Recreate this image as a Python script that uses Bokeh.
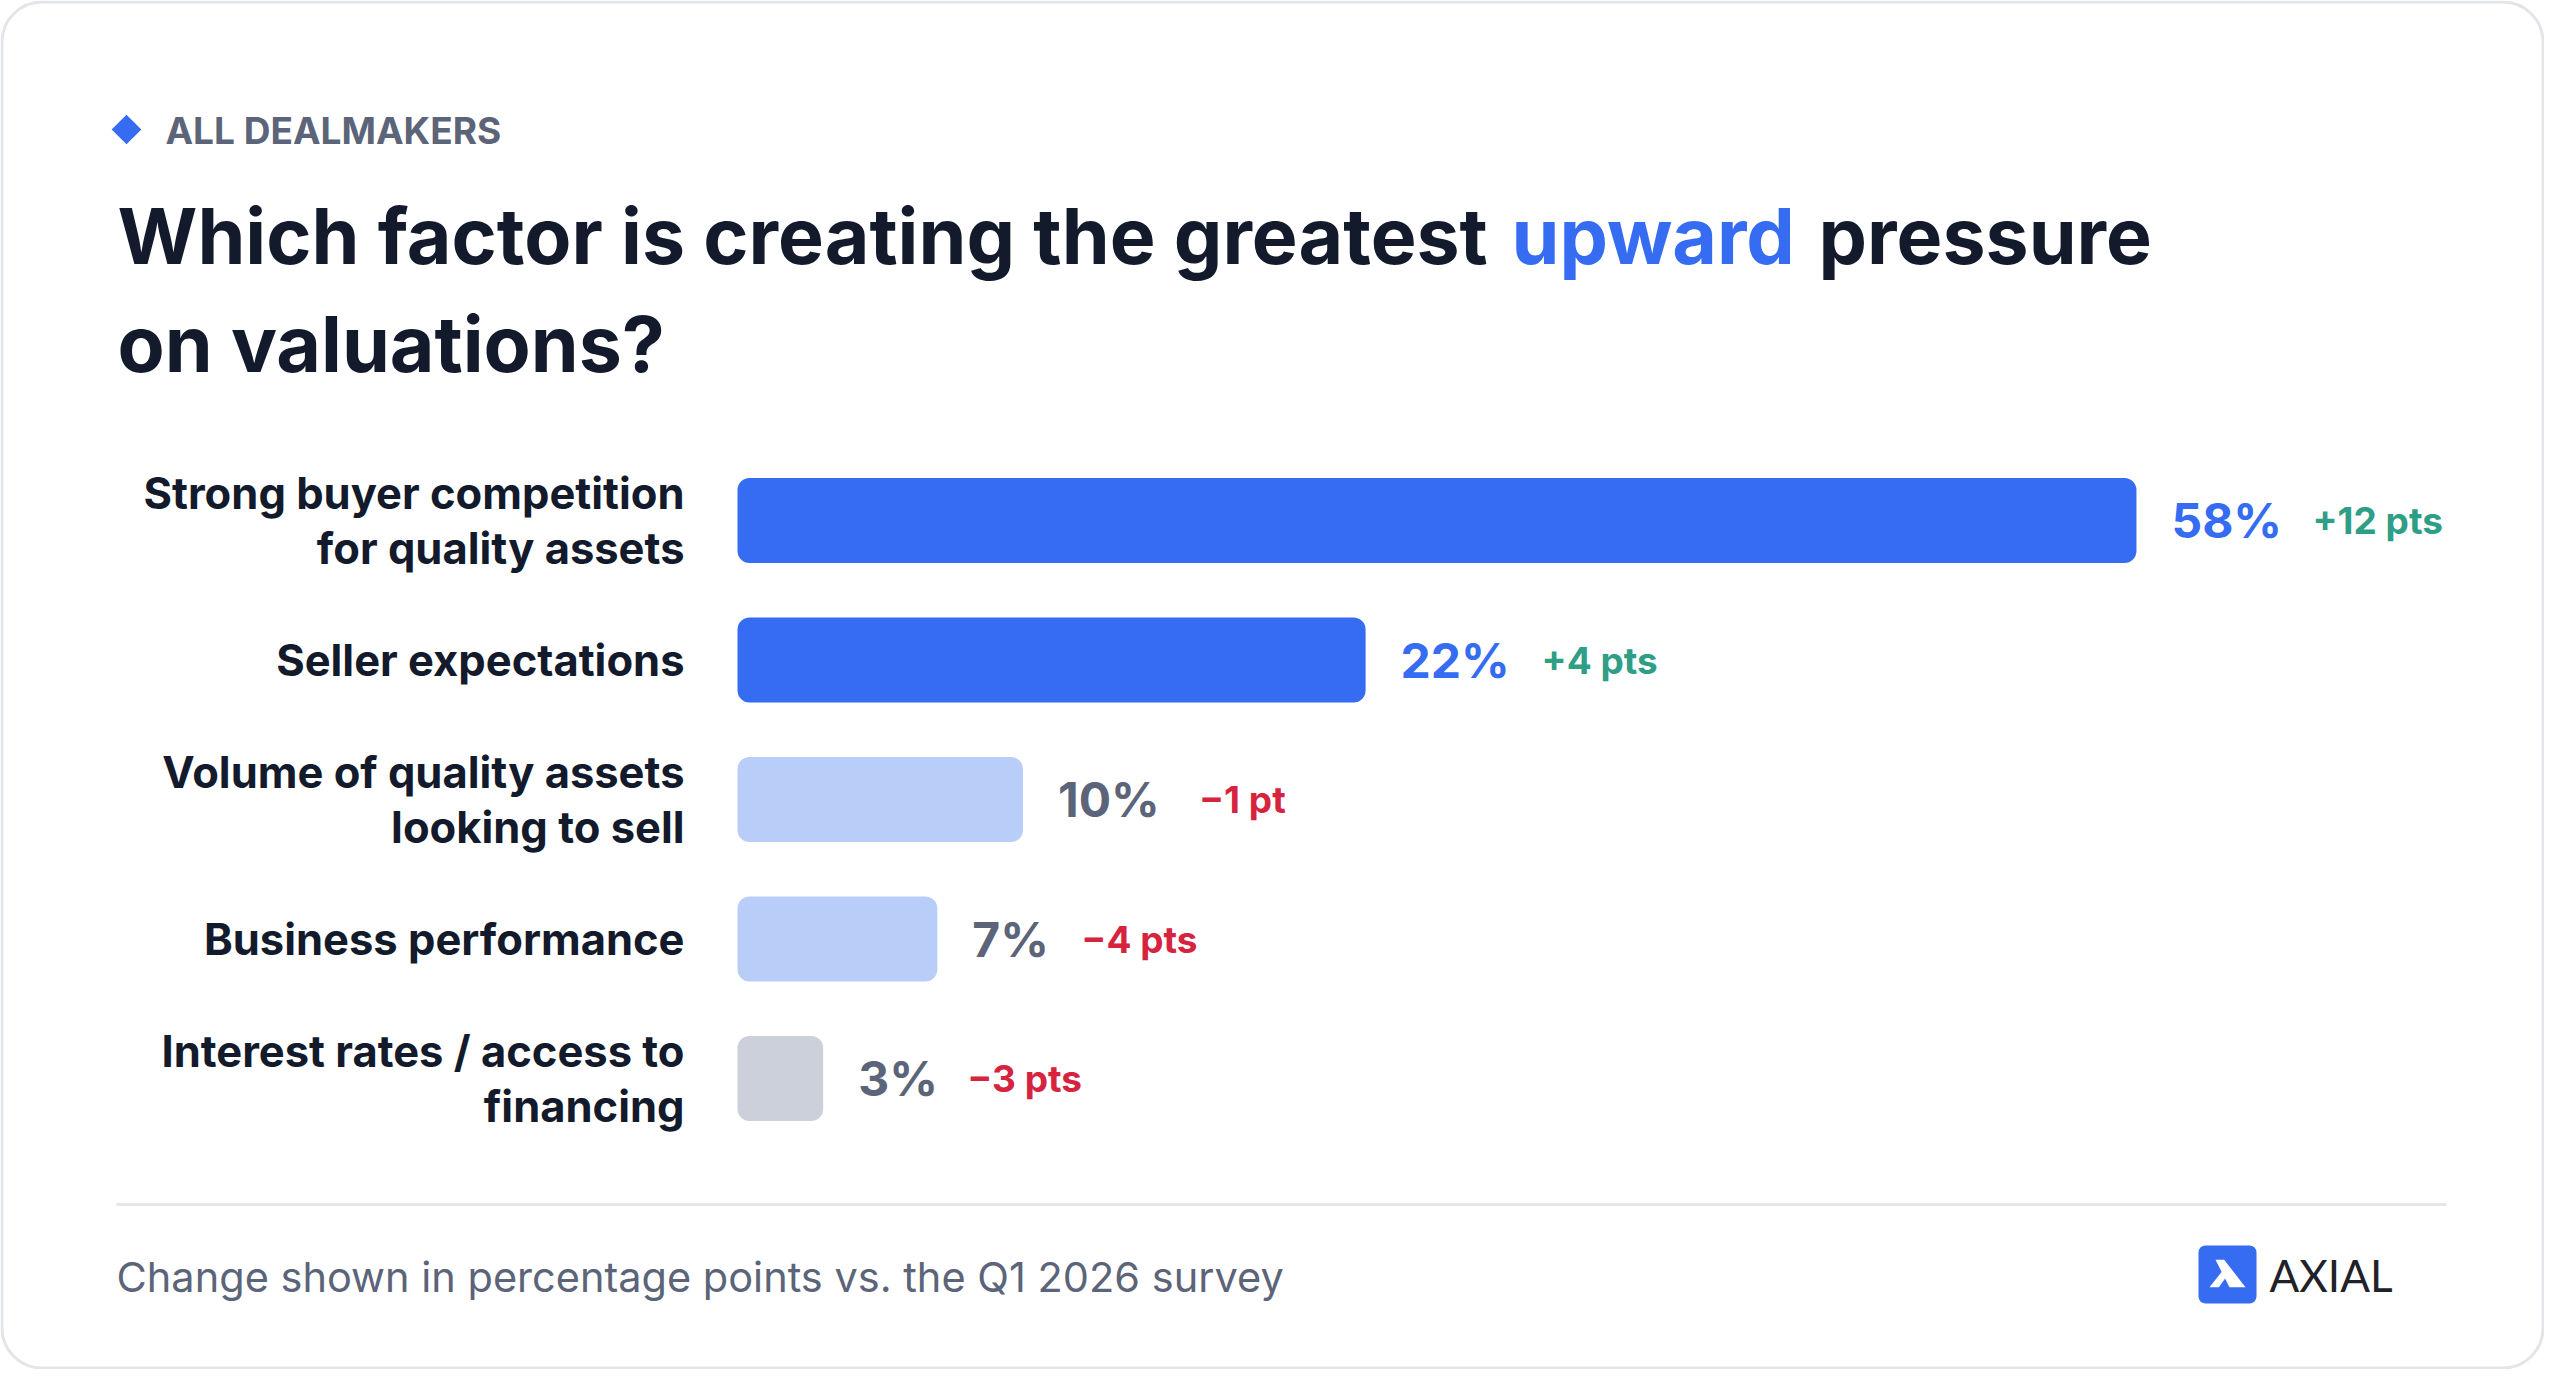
import math
from bokeh.plotting import figure
from bokeh.models import Range1d, ColumnDataSource
from bokeh.core.properties import value
from bokeh.embed import file_html
from bokeh.resources import INLINE

# ---------------- data ----------------
categories = [
    "Strong buyer competition\nfor quality assets",
    "Seller expectations",
    "Volume of quality assets\nlooking to sell",
    "Business performance",
    "Interest rates / access to\nfinancing",
]
shares = [58, 22, 10, 7, 3]          # % of dealmakers
changes = [12, 4, -1, -4, -3]        # change in points vs. Q1 2026

kicker = "ALL DEALMAKERS"
title_parts = ["Which factor is creating the greatest", "upward", "pressure"]
title_line2 = "on valuations?"
note = "Change shown in percentage points vs. the Q1 2026 survey"
brand = "AXIAL"

# ---------------- style ----------------
FONT = "Inter"
W, H = 2544, 1369
DARK = "#121a2b"
SLATE = "#5b6478"
BLUE = "#356cf2"
bar_colors = [BLUE, BLUE, "#b9cdf9", "#b9cdf9", "#cbd0db"]
label_colors = [BLUE, BLUE, SLATE, SLATE, SLATE]
GREEN = "#2f9e87"
RED = "#d6243f"

bar_x0 = 737          # pixel where 0 % sits
px_per_pt = 28.55     # pixels per percentage point
bar_cap = 49.0        # longest drawn bar (in %), as in the original
row0_y = 520          # pixel centre of first row
row_step = 139.5      # pixels between rows
bar_h_px = 85

rows = list(range(len(categories)))
shown = [min(v, bar_cap) for v in shares]
val_text = [f"{v}%" for v in shares]
chg_text = [("+" if d > 0 else "\u2212") + f"{abs(d)} " + ("pt" if abs(d) == 1 else "pts") for d in changes]
chg_colors = [GREEN if d > 0 else RED for d in changes]
chg_off = [80 + 32 * len(t) for t in val_text]

src = ColumnDataSource(dict(row=rows, cat=categories, share=shares, shown=shown,
                            val=val_text, chg=chg_text, bcol=bar_colors,
                            lcol=label_colors, ccol=chg_colors, coff=chg_off))

p = figure(width=W, height=H, x_range=Range1d(0, W), y_range=Range1d(H, 0),
           output_backend="svg", toolbar_location=None, min_border=0,
           x_axis_location=None, y_axis_location=None,
           background_fill_color="white", border_fill_color="white",
           outline_line_color=None)
p.grid.visible = False
p.extra_x_ranges = {"pct": Range1d(-bar_x0 / px_per_pt, (W - bar_x0) / px_per_pt)}
p.extra_y_ranges = {"row": Range1d((H - row0_y) / row_step, -row0_y / row_step)}

# card
p.quad(left=[1.5], right=[W - 1.5], top=[1.5], bottom=[H - 1.5], fill_color="white",
       line_color="#e3e5ea", line_width=3, border_radius=40)

# kicker
p.scatter(x=[126], y=[129], marker="square", size=21, angle=math.pi / 4,
          fill_color=BLUE, line_color=None)
p.text(x=[165], y=[130], text=[kicker], text_font=value(FONT), text_font_style="bold",
       text_font_size="37px", text_color=SLATE, text_baseline="middle")

# title
tkw = dict(text_font=value(FONT), text_font_style="bold", text_font_size="77px",
           text_baseline="middle", text_align="left")
p.text(x=[117], y=[235], text=[title_parts[0]], text_color=DARK, **tkw)
p.text(x=[1511], y=[235], text=[title_parts[1]], text_color=BLUE, **tkw)
p.text(x=[1818], y=[235], text=[title_parts[2]], text_color=DARK, **tkw)
p.text(x=[117], y=[343], text=[title_line2], text_color=DARK, **tkw)

# bars
p.hbar(y="row", left=0, right="shown", height=bar_h_px / row_step, source=src,
       fill_color="bcol", line_color=None, border_radius=12,
       x_range_name="pct", y_range_name="row")

# category labels
p.text(x=0, y="row", text="cat", source=src, x_offset=-53, text_align="right",
       text_baseline="middle", text_line_height=1.074, text_font=value(FONT),
       text_font_style="bold", text_font_size="43.5px", text_color=DARK,
       x_range_name="pct", y_range_name="row")

# value labels
p.text(x="shown", y="row", text="val", source=src, x_offset=35, text_align="left",
       text_baseline="middle", text_font=value(FONT), text_font_style="bold",
       text_font_size="48px", text_color="lcol", x_range_name="pct", y_range_name="row")

# change labels
p.text(x="shown", y="row", text="chg", source=src, x_offset="coff", text_align="left",
       text_baseline="middle", text_font=value(FONT), text_font_style="bold",
       text_font_size="37px", text_color="ccol", x_range_name="pct", y_range_name="row")

# footer
p.segment(x0=[116], y0=[1204], x1=[2446], y1=[1204], line_color="#e5e7eb", line_width=3)
p.text(x=[116], y=[1276], text=[note], text_font=value(FONT), text_font_size="41.5px",
       text_color=SLATE, text_baseline="middle")

# logo
p.quad(left=[2198], right=[2256], top=[1245], bottom=[1303], fill_color=BLUE,
       line_color=None, border_radius=7)
def lp(pts):
    return ([2195 + x / 3 for x, y in pts], [1240 + y / 3 for x, y in pts])
leg_r = lp([(60, 58), (86, 58), (150, 140), (102, 140)])
leg_l = lp([(42, 140), (70, 140), (93, 108), (80, 92)])
p.patches(xs=[leg_r[0], leg_l[0]], ys=[leg_r[1], leg_l[1]], fill_color="white", line_color=None)
p.text(x=[2269], y=[1274], text=[brand], text_font=value("Lato"), text_font_size="44px",
       text_color="#1f2329", text_baseline="middle")

open("out.html", "w").write(file_html(p, INLINE))
